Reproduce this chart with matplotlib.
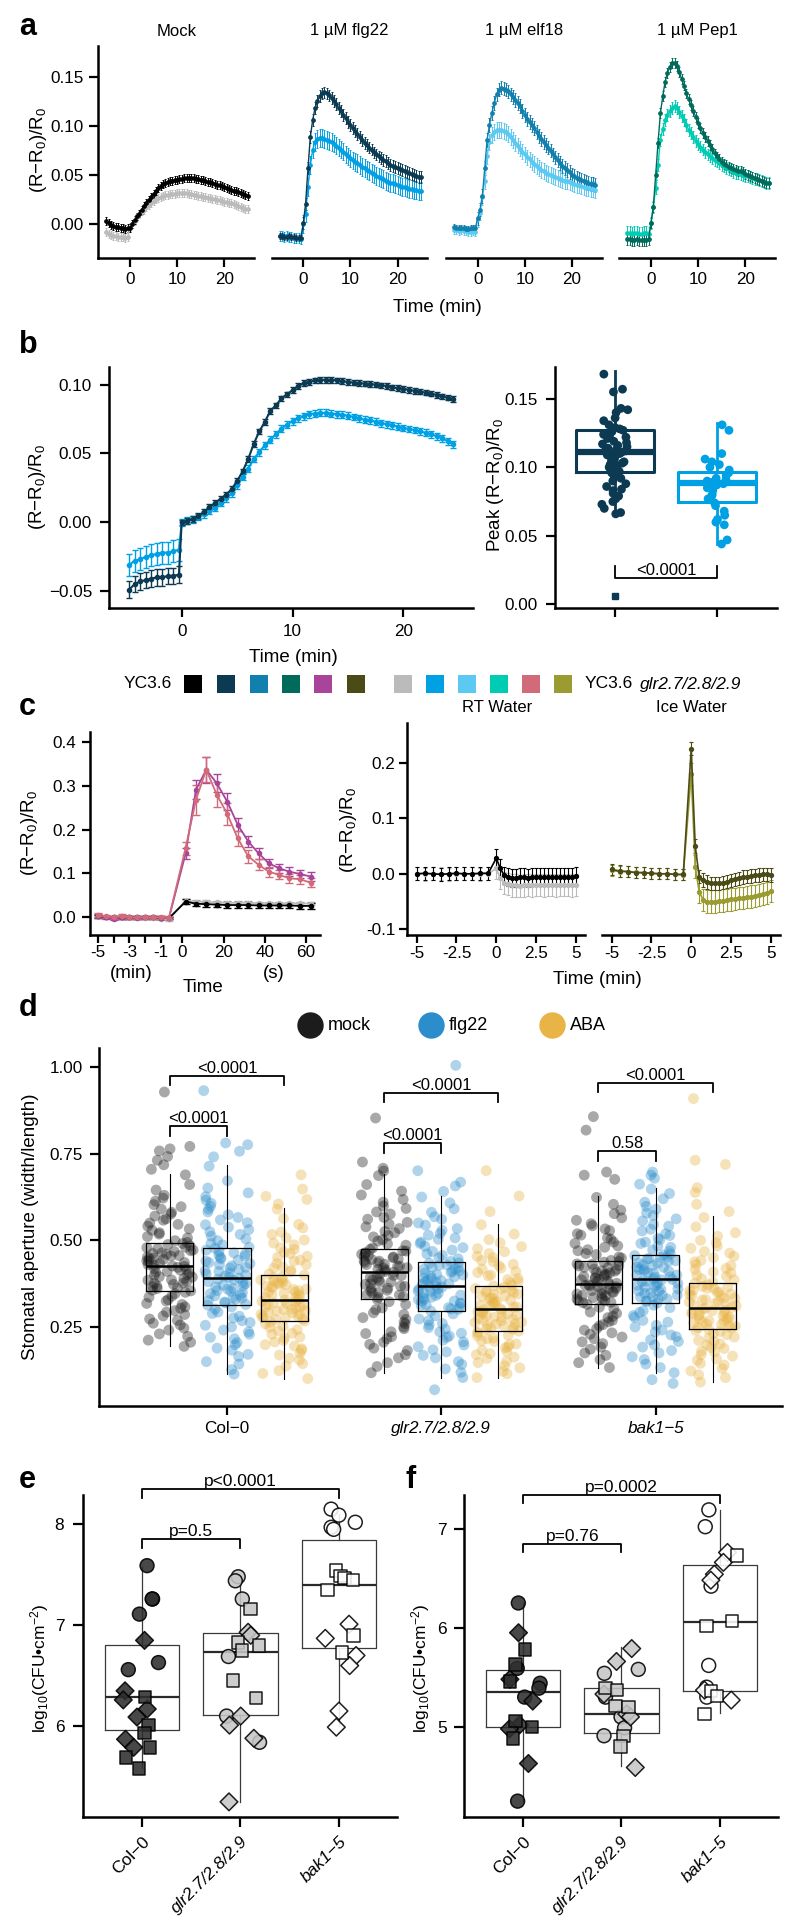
import numpy as np
import pandas as pd
import matplotlib
matplotlib.use('Agg')
import matplotlib.pyplot as plt
import matplotlib.patches as mpatches
import seaborn as sns

plt.rcParams['font.family'] = ['Liberation Sans', 'DejaVu Sans']
plt.rcParams['mathtext.fontset'] = 'custom'
plt.rcParams['mathtext.rm'] = 'Liberation Sans'
plt.rcParams['mathtext.it'] = 'Liberation Sans:italic'
plt.rcParams['mathtext.bf'] = 'Liberation Sans:bold'

# colours (YC3.6 row / YC3.6 glr2.7/2.8/2.9 row)
C_BLACK, C_NAVY, C_TEAL, C_GREEN, C_MAG, C_DOLIVE = '#000000', '#0b3a52', '#1280ae', '#006b5b', '#a8449a', '#4b4b18'
C_GRAY, C_BLUE, C_LBLUE, C_TURQ, C_PINK, C_OLIVE = '#bbbbbb', '#00a1e4', '#5bc9f1', '#00ccb4', '#d16b79', '#9a9b31'

# ---------------- data a (x1000, 0.5 min steps, -5 .. 25 min) ----------------
mock_yc = [3, 1, -1, -2, -3, -3, -4, -4, -5, -4,
           -4, 0, 4, 8, 11, 15, 19, 22, 25, 28, 31, 34, 37, 39, 41, 42, 43, 44, 44, 45, 45, 46, 46, 47, 47, 47,
           47, 47, 46, 46, 45, 45, 44, 43, 43, 42, 41, 40, 40, 39, 38, 37, 36, 35, 34, 34, 33, 32, 31, 30, 29]
mock_glr = [-8, -10, -11, -12, -12, -13, -13, -13, -14, -13,
            -3, 0, 3, 7, 10, 13, 15, 18, 20, 22, 24, 26, 27, 28, 29, 30, 30, 31, 31, 31, 32, 32, 32, 32, 32, 31,
            31, 30, 30, 29, 29, 28, 28, 27, 27, 26, 26, 25, 25, 24, 23, 23, 22, 22, 21, 20, 19, 18, 17, 16, 16]
flg_yc = [-12, -12, -13, -13, -12, -13, -13, -14, -14, -14,
          1, 21, 57, 89, 106, 118, 125, 130, 133, 134, 133, 131, 128, 125, 122, 118, 115, 111, 108, 104, 101, 98,
          95, 92, 89, 86, 83, 81, 78, 76, 73, 71, 69, 67, 65, 64, 62, 60, 59, 58, 57, 56, 55, 54, 53, 52, 51, 50,
          49, 48, 48]
flg_glr = [-12, -12, -13, -12, -13, -13, -14, -14, -14, -15,
           0, 11, 38, 60, 76, 84, 87, 88, 88, 87, 86, 85, 84, 82, 80, 78, 76, 74, 71, 69, 67, 65, 63, 62, 60, 58,
           57, 55, 54, 52, 51, 49, 48, 47, 46, 44, 43, 42, 42, 41, 40, 39, 38, 38, 37, 36, 36, 35, 35, 34, 34]
elf_yc = [-3, -4, -4, -4, -4, -5, -5, -4, -4, -4,
          6, 15, 29, 57, 86, 101, 113, 123, 132, 137, 139, 138, 137, 135, 132, 129, 126, 123, 120, 115, 111, 107,
          104, 101, 98, 94, 90, 87, 84, 81, 78, 75, 71, 68, 65, 62, 59, 57, 55, 53, 50, 49, 47, 46, 45, 44, 43, 42,
          41, 41, 40]
elf_glr = [-6, -6, -7, -6, -7, -7, -8, -8, -7, -8,
           5, 12, 28, 44, 69, 84, 91, 94, 96, 96, 96, 95, 94, 92, 89, 86, 83, 80, 77, 74, 71, 68, 66, 63, 61, 59,
           57, 55, 54, 52, 51, 50, 49, 48, 47, 46, 45, 44, 44, 43, 42, 41, 40, 40, 39, 38, 37, 37, 36, 36, 35]
pep_yc = [-15, -15, -16, -16, -15, -16, -16, -16, -16, -15,
          1, 18, 50, 83, 113, 130, 145, 154, 160, 164, 164, 161, 155, 148, 141, 133, 127, 121, 115, 109, 103, 98,
          93, 89, 85, 81, 77, 72, 69, 66, 63, 61, 60, 58, 57, 56, 55, 54, 54, 53, 51, 50, 49, 48, 47, 46, 45, 44,
          43, 42, 42]
pep_glr = [-9, -9, -10, -9, -9, -10, -10, -9, -9, -10,
           1, 18, 37, 60, 86, 97, 106, 111, 115, 118, 120, 118, 114, 110, 106, 101, 96, 93, 89, 85, 82, 79, 76, 73,
           71, 69, 67, 65, 64, 62, 60, 59, 57, 56, 55, 53, 52, 52, 51, 50, 49, 49, 48, 47, 46, 46, 45, 44, 43, 42, 42]
a_titles = ['Mock', '1 µM flg22', '1 µM elf18', '1 µM Pep1']
# sem (pre, post)
a_sem_yc = [(0.004, 0.004), (0.003, 0.006), (0.003, 0.007), (0.006, 0.005)]
a_sem_glr = [(0.004, 0.004), (0.005, 0.009), (0.004, 0.008), (0.007, 0.006)]

# ---------------- data b ----------------
b_yc = [-49, -45, -43, -42, -41, -40, -40, -39, -39, -38,
        0, 1, 2.5, 4.5, 7.5, 11, 14, 17, 20, 24, 30, 37, 46, 57, 66, 73, 81, 85, 90, 93, 96, 99, 101, 102, 103,
        103.5, 103.5, 103.5, 103, 102.5, 102, 101.5, 101, 100.8, 100.5, 100, 99.5, 99, 98, 97.5, 97, 96.2, 95.5,
        95, 94.2, 93.5, 92.5, 91.5, 90.5, 89.5]
b_glr = [-31, -28, -27, -25, -24, -23, -22, -22, -21, -20,
         0, 1, 2.2, 3.8, 5.8, 8.5, 10.4, 14, 17.5, 21, 27, 33, 39, 46, 51, 56, 60, 64, 68, 71, 73.5, 75.5, 77, 78.5,
         79, 79.5, 79.5, 79, 78.5, 78, 77.5, 76.5, 75.5, 74.5, 74, 73, 72, 71.2, 70.5, 69.5, 68.5, 67.8, 67, 66, 65,
         64, 62.5, 61, 58.8, 56.5]
b_sem_yc, b_sem_glr = (0.006, 0.002), (0.008, 0.0025)
peak_yc = [0.168, 0.157, 0.155, 0.143, 0.142, 0.140, 0.136, 0.134, 0.131, 0.129, 0.128, 0.127, 0.126, 0.124,
           0.123, 0.122, 0.121, 0.119, 0.118, 0.117, 0.116, 0.115, 0.114, 0.113, 0.112, 0.112, 0.111, 0.111, 0.110,
           0.110, 0.109, 0.108, 0.107, 0.106, 0.105, 0.104, 0.103, 0.102, 0.101, 0.100, 0.099, 0.098, 0.097, 0.096,
           0.094, 0.092, 0.090, 0.088, 0.086, 0.084, 0.083, 0.081, 0.079, 0.077, 0.075, 0.073, 0.070, 0.067, 0.066]
peak_glr = [0.131, 0.127, 0.110, 0.106, 0.104, 0.102, 0.100, 0.098, 0.096, 0.094, 0.092, 0.091, 0.090, 0.089,
            0.089, 0.088, 0.087, 0.085, 0.083, 0.080, 0.079, 0.077, 0.074, 0.072, 0.068, 0.065, 0.062, 0.060,
            0.058, 0.047, 0.044]
# box: whislo, q1, med, q3, whishi
peak_box_yc = [0.0665, 0.0965, 0.111, 0.1275, 0.1705]
peak_box_glr = [0.044, 0.0745, 0.0887, 0.0967, 0.132]
peak_outlier_yc = [0.0058]

# ---------------- data c ----------------
cl_t = [-300, -270, -240, -210, -180, -150, -120, -90, -60, -30,
        1.6, 6.6, 11.6, 16.7, 21.8, 26.9, 32.0, 37.0, 42.0, 47.0, 52.0, 57.1, 62.2]
cl_mag = [0.003, 0.0, -0.003, 0.0, 0.001, -0.001, 0.0, 0.0, -0.001, -0.002,
          0.146, 0.291, 0.337, 0.306, 0.264, 0.211, 0.173, 0.146, 0.123, 0.112, 0.104, 0.099, 0.093]
cl_mag_err = [0.004, 0.003, 0.003, 0.003, 0.003, 0.003, 0.003, 0.003, 0.003, 0.003,
              0.012, 0.022, 0.030, 0.020, 0.020, 0.015, 0.013, 0.012, 0.011, 0.010, 0.010, 0.010, 0.010]
cl_pink = [0.005, 0.002, 0.0, 0.003, 0.0, 0.0, 0.001, 0.0, 0.0, -0.001,
           0.158, 0.268, 0.337, 0.280, 0.236, 0.180, 0.139, 0.120, 0.104, 0.097, 0.089, 0.087, 0.079]
cl_pink_err = [0.004, 0.003, 0.003, 0.004, 0.003, 0.003, 0.003, 0.003, 0.003, 0.003,
               0.015, 0.035, 0.028, 0.028, 0.025, 0.018, 0.015, 0.012, 0.011, 0.010, 0.010, 0.010, 0.010]
cl_black = [0.002, 0.001, 0.0, 0.0, 0.0, 0.0, 0.0, 0.0, -0.001, -0.002,
            0.036, 0.031, 0.030, 0.029, 0.028, 0.028, 0.028, 0.027, 0.027, 0.027, 0.027, 0.026, 0.026]
cl_gray = [0.003, 0.001, 0.001, 0.0, 0.0, 0.0, -0.001, -0.001, -0.003, -0.005,
           0.038, 0.036, 0.035, 0.034, 0.033, 0.033, 0.033, 0.032, 0.032, 0.032, 0.032, 0.032, 0.031]
cl_sem_black, cl_sem_gray = (0.003, 0.006), (0.003, 0.004)

# RT / ice water: 0.5 min before, 0, then 0.25 min steps
cr_t = [-5, -4.5, -4, -3.5, -3, -2.5, -2, -1.5, -1, -0.5, 0,
        0.25, 0.5, 0.75, 1, 1.25, 1.5, 1.75, 2, 2.25, 2.5, 2.75, 3, 3.25, 3.5, 3.75, 4, 4.25, 4.5, 4.75, 5]
rt_yc = [0.000, 0.001, 0.000, -0.001, 0.000, 0.001, 0.000, 0.000, 0.001, 0.001, 0.028,
         0.010, -0.003, -0.006, -0.007, -0.007, -0.006, -0.006, -0.007, -0.006, -0.005, -0.005, -0.006, -0.005,
         -0.005, -0.006, -0.005, -0.005, -0.005, -0.005, -0.004]
rt_glr = [0.0, -0.001, 0.0, 0.0, -0.001, 0.0, 0.0, 0.0, -0.001, 0.0, 0.010,
          -0.008, -0.016, -0.019, -0.021, -0.021, -0.022, -0.021, -0.020, -0.021, -0.020, -0.020, -0.021, -0.020,
          -0.020, -0.021, -0.020, -0.020, -0.020, -0.021, -0.020]
ice_yc = [0.008, 0.005, 0.004, 0.002, 0.002, 0.001, 0.0, 0.0, -0.001, -0.001, 0.225,
          0.050, -0.005, -0.011, -0.015, -0.017, -0.017, -0.017, -0.016, -0.014, -0.012, -0.010, -0.008, -0.006,
          -0.005, -0.004, -0.003, -0.002, -0.001, -0.001, -0.002]
ice_glr = [0.006, 0.004, 0.004, 0.003, 0.002, 0.001, 0.0, 0.0, -0.001, -0.002, 0.180,
           0.013, -0.032, -0.047, -0.050, -0.050, -0.050, -0.049, -0.048, -0.047, -0.046, -0.045, -0.044, -0.043,
           -0.042, -0.041, -0.040, -0.038, -0.036, -0.034, -0.031]
cr_sem = {'rt_yc': (0.012, 0.016), 'rt_glr': (0.012, 0.02), 'ice_yc': (0.01, 0.012), 'ice_glr': (0.01, 0.02)}

# ---------------- data d (stomatal aperture, x1000) ----------------
d_genos = ['Col−0', 'glr2.7/2.8/2.9', 'bak1−5']
d_treats = ['mock', 'flg22', 'ABA']
d_col_mock = ("194 206 212 223 230 241 247 256 261 269 273 282 286 293 297 304 308 315 318 325 329 336 339 346 350 "
              "354 356 361 363 367 368 373 376 377 381 385 386 390 394 395 399 401 406 408 410 414 417 419 422 425 "
              "426 429 430 434 436 440 441 445 447 448 452 455 456 460 462 464 468 470 472 476 479 480 484 488 491 "
              "494 499 507 511 518 522 529 533 541 546 550 558 562 570 576 581 590 597 603 613 622 630 645 661 689 "
              "705 718 731 742 758 764 771 928")
d_col_flg = ("114 127 143 150 165 171 183 189 199 205 216 220 229 236 241 250 255 263 268 276 281 289 293 302 308 "
             "313 315 320 322 326 330 333 336 340 342 346 349 353 355 359 362 365 369 371 375 378 381 385 388 391 "
             "393 397 399 403 406 410 412 416 420 422 426 430 433 436 440 443 447 450 454 457 461 464 468 472 477 "
             "480 487 491 499 504 512 517 525 531 538 545 551 559 566 574 582 590 598 607 616 626 637 651 672 714 "
             "741 757 776 781 932")
d_col_aba = ("101 116 124 137 144 155 160 169 174 183 187 195 199 207 211 218 221 229 232 239 242 249 252 259 264 "
             "267 271 272 276 277 281 282 286 287 291 292 296 297 301 302 306 308 309 313 314 318 319 323 324 328 "
             "330 334 335 339 342 343 347 350 351 355 358 359 363 366 367 372 374 377 378 383 386 387 392 394 400 "
             "403 410 413 420 423 430 433 440 443 451 454 462 466 474 478 487 492 501 507 517 524 536 546 563 590 "
             "605 618 627 648 689")
d_glr_mock = ("118 136 147 161 170 182 189 200 206 216 222 231 236 245 250 259 264 272 277 286 291 300 305 315 323 "
              "330 335 337 342 343 348 349 354 356 361 362 367 368 373 374 379 380 385 386 392 393 398 399 404 408 "
              "410 415 416 420 421 425 426 430 431 435 436 440 441 445 446 450 452 455 456 460 463 464 469 470 474 "
              "478 486 490 498 502 510 514 522 526 534 539 547 552 561 566 576 582 592 599 610 618 631 642 661 687 "
              "700 708 726 853")
d_glr_flg = ("069 104 119 129 142 150 161 168 178 184 193 198 207 212 220 224 232 236 244 248 256 260 268 273 282 "
             "288 296 301 302 306 307 312 313 318 319 324 325 329 330 335 336 341 342 347 348 353 354 359 360 365 "
             "366 369 374 375 379 380 384 385 390 391 395 396 400 401 406 407 411 412 417 418 422 423 428 429 434 "
             "435 439 447 450 457 461 468 472 479 483 491 495 503 507 515 520 529 534 544 550 561 568 581 591 608 "
             "625 641 657 668 701 1005")
d_glr_aba = ("104 115 122 132 138 147 151 159 163 170 173 180 183 190 192 199 201 208 210 216 218 224 226 232 236 "
             "238 243 244 248 249 253 254 258 259 263 264 268 269 273 274 278 279 283 284 288 289 293 294 298 300 "
             "302 307 308 312 313 317 318 322 323 328 329 333 334 338 339 344 345 349 350 354 355 360 361 365 368 "
             "371 378 381 387 390 397 400 407 410 417 420 427 431 438 442 450 454 462 467 476 482 493 502 518 545 "
             "583 628 701")
d_bak_mock = ("133 147 156 168 175 186 192 202 207 216 221 229 233 241 245 253 257 265 269 277 281 289 293 302 307 "
              "315 320 321 325 326 330 331 335 336 340 341 345 346 350 351 355 356 360 361 365 366 369 370 372 374 "
              "376 381 382 386 387 391 392 396 397 401 402 406 407 411 412 416 417 421 422 426 427 431 432 437 439 "
              "442 449 452 459 462 470 473 480 484 491 495 503 507 515 519 528 533 542 548 558 565 577 587 604 624 "
              "676 688 697 818 857")
d_bak_flg = ("087 098 118 133 143 156 164 175 182 192 198 208 213 222 227 236 241 250 255 264 269 278 283 292 297 "
             "306 313 319 324 325 330 331 336 337 341 342 347 348 353 354 359 360 365 366 370 371 376 377 381 382 "
             "386 387 389 394 395 399 400 405 406 411 412 416 417 422 423 428 429 434 435 440 441 446 447 451 452 "
             "456 458 461 469 472 480 483 491 495 502 506 514 519 527 532 541 546 556 562 572 579 590 598 610 620 "
             "635 648 662 679 688 697")
d_bak_aba = ("091 104 112 123 130 140 145 154 158 166 170 178 181 188 191 198 201 208 211 218 221 228 231 237 240 "
             "243 247 248 252 253 257 258 262 263 267 268 272 273 277 278 282 283 287 288 292 293 297 298 302 304 "
             "306 311 312 317 318 322 323 328 329 333 334 339 340 344 345 350 351 355 356 361 362 366 367 372 376 "
             "379 386 389 396 399 406 409 416 419 427 430 438 442 450 454 463 468 477 483 493 500 512 522 539 566 "
             "583 604 638 652 719 731 909")
# box stats, order Col-0 (mock, flg22, ABA), glr, bak
d_lo = [0.194, 0.113, 0.101, 0.118, 0.104, 0.104, 0.133, 0.118, 0.091]
d_q1 = [0.354, 0.312, 0.267, 0.330, 0.296, 0.238, 0.315, 0.319, 0.243]
d_med = [0.425, 0.392, 0.329, 0.409, 0.368, 0.301, 0.375, 0.388, 0.305]
d_q3 = [0.492, 0.478, 0.401, 0.476, 0.437, 0.369, 0.440, 0.459, 0.377]
d_hi = [0.692, 0.716, 0.594, 0.690, 0.628, 0.548, 0.627, 0.651, 0.569]
d_pvals = ['<0.0001', '<0.0001', '<0.0001', '<0.0001', '0.58', '<0.0001']  # (mock-flg22, mock-ABA) per genotype

# ---------------- data e / f (log10 CFU) ----------------
e_col_circ = [7.59, 7.26, 7.26, 7.11, 6.63, 6.56]
e_col_diam = [6.85, 6.35, 6.26, 6.17, 6.09, 5.87, 5.79]
e_col_sq = [6.29, 6.01, 5.93, 5.79, 5.69, 5.58]
e_glr_circ = [7.48, 7.44, 7.26, 6.69, 6.10, 5.84]
e_glr_diam = [6.93, 6.90, 6.10, 6.01, 5.88, 5.25]
e_glr_sq = [7.16, 6.83, 6.80, 6.75, 6.45, 6.28]
e_bak_circ = [8.15, 8.09, 8.02, 7.97, 7.95]
e_bak_diam = [7.01, 6.87, 6.70, 6.60, 6.15, 5.99]
e_bak_sq = [7.54, 7.49, 7.47, 7.45, 7.35, 6.90, 6.73]
e_box = [[5.59, 5.96, 6.29, 6.80, 7.58], [5.25, 6.11, 6.73, 6.92, 7.48], [6.00, 6.77, 7.40, 7.84, 8.10]]

f_col_circ = [6.25, 5.59, 5.44, 5.39, 5.30, 4.25]
f_col_diam = [5.95, 5.48, 5.26, 5.02, 4.98, 4.63]
f_col_sq = [5.78, 5.63, 5.46, 5.06, 5.00, 4.88]
f_glr_circ = [5.58, 5.54, 5.30, 5.10, 4.99, 4.91]
f_glr_diam = [5.79, 5.66, 5.33, 5.13, 5.10, 4.59]
f_glr_sq = [5.39, 5.37, 5.21, 5.20, 4.91, 4.80]
f_bak_circ = [7.19, 7.02, 6.42, 5.62, 5.40, 5.30]
f_bak_diam = [6.76, 6.66, 6.54, 6.48, 5.37, 5.27]
f_bak_sq = [6.73, 6.07, 6.02, 5.36, 5.31, 5.13]
f_box = [[4.25, 5.00, 5.35, 5.57, 6.25], [4.60, 4.94, 5.13, 5.39, 5.81], [5.14, 5.36, 6.06, 6.63, 7.19]]

# =====================================================================
W, H = 800, 1929
fig = plt.figure(figsize=(W / 100, H / 100), dpi=100)
np.random.seed(7)
TICK = 12.3
LAB = 13.5


def px_axes(x0, y0, x1, y1):
    return fig.add_axes([x0 / W, 1 - y1 / H, (x1 - x0) / W, (y1 - y0) / H])


def clean(ax, left=True, xpad=4, ypad=4.5, length=6.5):
    ax.spines['top'].set_visible(False)
    ax.spines['right'].set_visible(False)
    ax.spines['left'].set_linewidth(1.8)
    ax.spines['bottom'].set_linewidth(1.8)
    ax.tick_params(width=1.6, length=length, labelsize=TICK)
    ax.tick_params(axis='x', pad=xpad)
    ax.tick_params(axis='y', pad=ypad)
    if not left:
        ax.spines['left'].set_visible(False)
        ax.tick_params(axis='y', left=False, labelleft=False)
    ax.patch.set_alpha(0)


def sem_arr(t, sem):
    return np.where(np.asarray(t) < 0, sem[0], sem[1])


def bracket(ax, x0, x1, y, h, label, size=12):
    ax.plot([x0, x0, x1, x1], [y - h, y, y, y - h], color='black', lw=1.3, clip_on=False)
    ax.text((x0 + x1) / 2, y, label, ha='center', va='bottom', fontsize=size, clip_on=False)


# ---------------- panel a ----------------
t_a = np.r_[np.arange(-5, 0, 0.5), np.arange(0, 25.5, 0.5)]
a_pairs = [(mock_yc, mock_glr, C_BLACK, C_GRAY), (flg_yc, flg_glr, C_NAVY, C_BLUE),
           (elf_yc, elf_glr, C_TEAL, C_LBLUE), (pep_yc, pep_glr, C_GREEN, C_TURQ)]
a_x = [(98.4, 253.9), (271.7, 427.2), (446.1, 601.6), (619.4, 774.9)]
for i, (yc, glr, cy, cg) in enumerate(a_pairs):
    ax = px_axes(a_x[i][0], 46, a_x[i][1], 258)
    for vals, col, sem in [(glr, cg, a_sem_glr[i]), (yc, cy, a_sem_yc[i])]:
        v = np.array(vals) / 1000
        ax.errorbar(t_a, v, yerr=sem_arr(t_a, sem), color=col, lw=1.0, marker='o', ms=2.4,
                    elinewidth=0.7, capsize=1.0, capthick=0.7)
    ax.set_xlim(-6.7, 26.3)
    ax.set_ylim(-0.0342, 0.1812)
    ax.set_xticks([0, 10, 20])
    ax.set_yticks([0, 0.05, 0.10, 0.15])
    ax.set_yticklabels(['0.00', '0.05', '0.10', '0.15'])
    clean(ax, left=(i == 0), xpad=3.5, ypad=4)

# ---------------- panel b ----------------
t_b = np.r_[np.arange(-4.75, 0, 0.5), np.arange(0, 25, 0.5)]
ax = px_axes(109.3, 367, 473.3, 608.3)
for vals, col, sem in [(b_glr, C_BLUE, b_sem_glr), (b_yc, C_NAVY, b_sem_yc)]:
    ax.errorbar(t_b, np.array(vals) / 1000, yerr=sem_arr(t_b, sem), color=col, lw=1.5, marker='o', ms=3,
                elinewidth=1.0, capsize=2.0, capthick=1.0)
ax.set_xlim(-6.53, 26.3)
ax.set_ylim(-0.0625, 0.1128)
ax.set_xticks([0, 10, 20])
ax.set_yticks([-0.05, 0, 0.05, 0.10])
ax.set_yticklabels(['−0.05', '0.00', '0.05', '0.10'])
clean(ax, xpad=4.5, ypad=6)

ax = px_axes(555, 367, 777, 608.3)
df_peak = pd.DataFrame({'line': ['YC3.6'] * len(peak_yc) + ['glr'] * len(peak_glr),
                        'peak': peak_yc + peak_glr})
for k, (box, col, fl) in enumerate([(peak_box_yc, C_NAVY, peak_outlier_yc), (peak_box_glr, C_BLUE, [])]):
    st = [dict(whislo=box[0], q1=box[1], med=box[2], q3=box[3], whishi=box[4], fliers=fl)]
    ax.bxp(st, positions=[k], widths=0.76, showcaps=False, manage_ticks=False,
           boxprops=dict(color=col, lw=2.2), medianprops=dict(color=col, lw=4.5),
           whiskerprops=dict(color=col, lw=2.0),
           flierprops=dict(marker='s', markerfacecolor=col, markeredgecolor=col, markersize=4))
sns.stripplot(data=df_peak, x='line', y='peak', hue='line', order=['YC3.6', 'glr'],
              palette={'YC3.6': C_NAVY, 'glr': C_BLUE}, jitter=0.13, size=6.3, linewidth=0,
              legend=False, ax=ax, zorder=3)
bracket(ax, 0, 1, 0.019, -0.009, '<0.0001')
ax.set_xlim(-0.59, 1.59)
ax.set_ylim(-0.0029, 0.1732)
ax.set_xticks([0, 1])
ax.set_xticklabels(['', ''])
ax.set_yticks([0, 0.05, 0.10, 0.15])
ax.set_yticklabels(['0.00', '0.05', '0.10', '0.15'])
ax.set_xlabel('')
ax.set_ylabel('')
clean(ax, ypad=6)

# ---------------- panel c ----------------


def c_fwd(t):
    t = np.asarray(t, dtype=float)
    return np.where(t < 0, t * 0.1278 - 2.67, t)


def c_inv(u):
    u = np.asarray(u, dtype=float)
    return np.where(u < -2.67, (u + 2.67) / 0.1278, np.clip(u, 0, None))


ax = px_axes(90, 731.7, 320, 935)
ax.set_xscale('function', functions=(c_fwd, c_inv))
for vals, col, err in [(cl_gray, C_GRAY, sem_arr(cl_t, cl_sem_gray)), (cl_black, C_BLACK, sem_arr(cl_t, cl_sem_black)),
                       (cl_mag, C_MAG, cl_mag_err), (cl_pink, C_PINK, cl_pink_err)]:
    ax.errorbar(cl_t, vals, yerr=err, color=col, lw=1.3, marker='o', ms=3, elinewidth=1.0,
                capsize=3, capthick=1.0)
ax.set_xlim(-329.7, 66.8)
ax.set_ylim(-0.0404, 0.4237)
ax.set_xticks([-300, -240, -180, -120, -60, 0, 20, 40, 60])
ax.set_xticklabels(['-5', '', '-3', '', '-1', '0', '20', '40', '60'])
ax.xaxis.set_minor_locator(matplotlib.ticker.NullLocator())
ax.set_yticks([0, 0.1, 0.2, 0.3, 0.4])
ax.set_yticklabels(['0.0', '0.1', '0.2', '0.3', '0.4'])
clean(ax, xpad=1.5, ypad=4, length=6)

for j, (x0, x1, pairs) in enumerate([(407.3, 585, [(rt_glr, C_GRAY, 'rt_glr'), (rt_yc, C_BLACK, 'rt_yc')]),
                                      (602.3, 780, [(ice_glr, C_OLIVE, 'ice_glr'), (ice_yc, C_DOLIVE, 'ice_yc')])]):
    ax = px_axes(x0, 723.3, x1, 935)
    for vals, col, key in pairs:
        ax.errorbar(cr_t, vals, yerr=sem_arr(cr_t, cr_sem[key]), color=col, lw=1.2, marker='o', ms=2.8,
                    elinewidth=0.8, capsize=1.5, capthick=0.8)
    ax.set_xlim(-5.59, 5.58)
    ax.set_ylim(-0.110, 0.2705)
    ax.set_xticks([-5, -2.5, 0, 2.5, 5])
    ax.set_xticklabels(['-5', '-2.5', '0', '2.5', '5'])
    ax.set_yticks([-0.1, 0, 0.1, 0.2])
    ax.set_yticklabels(['-0.1', '0.0', '0.1', '0.2'])
    clean(ax, left=(j == 0), xpad=2, ypad=2.5, length=6)

# ---------------- panel d ----------------
d_groups = [[d_col_mock, d_col_flg, d_col_aba], [d_glr_mock, d_glr_flg, d_glr_aba],
            [d_bak_mock, d_bak_flg, d_bak_aba]]
rows = []
for g, geno in enumerate(d_genos):
    for k, tr in enumerate(d_treats):
        for v in np.array(d_groups[g][k].split(), dtype=float) / 1000:
            rows.append((geno, tr, v))
df_d = pd.DataFrame(rows, columns=['geno', 'treat', 'ap'])
d_cols = {'mock': '#1c1c1c', 'flg22': '#2b8dcb', 'ABA': '#e8b446'}

ax = px_axes(98.5, 1048, 782, 1406)
sns.stripplot(data=df_d, x='geno', y='ap', hue='treat', order=d_genos, hue_order=d_treats,
              palette=d_cols, dodge=True, jitter=0.33, size=7.8, alpha=0.38, linewidth=0,
              legend=False, ax=ax, zorder=1)
offs = [-0.8 / 3, 0, 0.8 / 3]
stats, pos = [], []
for g in range(3):
    for k in range(3):
        n = g * 3 + k
        stats.append(dict(whislo=d_lo[n], q1=d_q1[n], med=d_med[n], q3=d_q3[n], whishi=d_hi[n], fliers=[]))
        pos.append(g + offs[k])
ax.bxp(stats, positions=pos, widths=0.22, showcaps=False, showfliers=False, manage_ticks=False,
       boxprops=dict(color='black', lw=0.9), medianprops=dict(color='black', lw=1.8),
       whiskerprops=dict(color='black', lw=0.8), zorder=4)
# brackets: lower (mock-flg22), upper (mock-ABA)
d_br_low = [0.830, 0.781, 0.758]
d_br_up = [0.974, 0.926, 0.954]
for g in range(3):
    bracket(ax, g + offs[0], g + offs[1], d_br_low[g], 0.028, d_pvals[2 * g])
    bracket(ax, g + offs[0], g + offs[2], d_br_up[g], 0.027, d_pvals[2 * g + 1])
ax.set_xlim(-0.60, 2.59)
ax.set_ylim(0.022, 1.055)
ax.set_xticks([0, 1, 2])
ax.set_xticklabels(d_genos)
ax.get_xticklabels()[1].set_fontstyle('italic')
ax.get_xticklabels()[2].set_fontstyle('italic')
ax.set_yticks([0.25, 0.5, 0.75, 1.0])
ax.set_yticklabels(['0.25', '0.50', '0.75', '1.00'])
ax.set_xlabel('')
ax.set_ylabel('')
clean(ax, xpad=4.5, ypad=5)

# ---------------- panels e, f ----------------
ef_fill = {'Col−0': '#2e2e2e', 'glr2.7/2.8/2.9': '#c6c6c6', 'bak1−5': '#ffffff'}
ef_size = {'o': 10, 'D': 9, 's': 9}


def ef_panel(x0, x1, sets, boxes, ylim, yticks, brackets, jit, ypad):
    ax = px_axes(x0, 1495, x1, 1817)
    st = [dict(whislo=b[0], q1=b[1], med=b[2], q3=b[3], whishi=b[4], fliers=[]) for b in boxes]
    ax.bxp(st, positions=[0, 1, 2], widths=0.76, showcaps=False, showfliers=False, manage_ticks=False,
           boxprops=dict(color='#3a3a3a', lw=0.9), medianprops=dict(color='#2a2a2a', lw=1.6),
           whiskerprops=dict(color='#3a3a3a', lw=0.9), zorder=2)
    rows = []
    for geno, mk, vals in sets:
        for v in vals:
            rows.append((geno, mk, v))
    df = pd.DataFrame(rows, columns=['geno', 'mk', 'val'])
    for mk in ['o', 'D', 's']:
        sub = df[df.mk == mk]
        sns.stripplot(data=sub, x='geno', y='val', hue='geno', order=d_genos, hue_order=d_genos,
                      palette=ef_fill, marker=mk, size=ef_size[mk], edgecolor='black', linewidth=1.1,
                      alpha=0.88, jitter=jit, legend=False, ax=ax, zorder=3)
    for (a, b, y, h, lab) in brackets:
        bracket(ax, a, b, y, h, lab, size=12.5)
    ax.set_xlim(-0.60, 2.59)
    ax.set_ylim(*ylim)
    ax.set_yticks(yticks)
    ax.set_yticklabels([str(t) for t in yticks])
    ax.set_xticks([0, 1, 2])
    ax.set_xticklabels(d_genos, rotation=45, ha='right', va='top', rotation_mode='anchor')
    ax.get_xticklabels()[1].set_fontstyle('italic')
    ax.get_xticklabels()[2].set_fontstyle('italic')
    ax.set_xlabel('')
    ax.set_ylabel('')
    clean(ax, xpad=5, ypad=ypad, length=7)
    ax.tick_params(labelsize=12.5)
    return ax


ef_panel(83, 397,
         [('Col−0', 'o', e_col_circ), ('Col−0', 'D', e_col_diam), ('Col−0', 's', e_col_sq),
          ('glr2.7/2.8/2.9', 'o', e_glr_circ), ('glr2.7/2.8/2.9', 'D', e_glr_diam), ('glr2.7/2.8/2.9', 's', e_glr_sq),
          ('bak1−5', 'o', e_bak_circ), ('bak1−5', 'D', e_bak_diam), ('bak1−5', 's', e_bak_sq)],
         e_box, (5.10, 8.29), [6, 7, 8],
         [(0, 1, 7.85, 0.09, 'p=0.5'), (0, 2, 8.35, 0.09, 'p<0.0001')], 0.2, 6.5)
ef_panel(464, 778,
         [('Col−0', 'o', f_col_circ), ('Col−0', 'D', f_col_diam), ('Col−0', 's', f_col_sq),
          ('glr2.7/2.8/2.9', 'o', f_glr_circ), ('glr2.7/2.8/2.9', 'D', f_glr_diam), ('glr2.7/2.8/2.9', 's', f_glr_sq),
          ('bak1−5', 'o', f_bak_circ), ('bak1−5', 'D', f_bak_diam), ('bak1−5', 's', f_bak_sq)],
         f_box, (4.09, 7.34), [5, 6, 7],
         [(0, 1, 6.85, 0.09, 'p=0.76'), (0, 2, 7.34, 0.08, 'p=0.0002')], 0.18, 5.5)

# ---------------- overlay: letters, shared labels, legends ----------------
ov = fig.add_axes([0, 0, 1, 1])
ov.set_xlim(0, W)
ov.set_ylim(H, 0)
ov.axis('off')
for s, x, y in [('a', 19, 35), ('b', 19, 353), ('c', 19, 715), ('d', 19, 1016), ('e', 19, 1488), ('f', 406, 1488)]:
    ov.text(x, y, s, fontsize=22, fontweight='bold', ha='left', va='baseline')

rr = '(R−R$_0$)/R$_0$'
for i, ttl in enumerate(a_titles):
    ov.text((a_x[i][0] + a_x[i][1]) / 2, 35.5, ttl, ha='center', va='baseline', fontsize=12)
ov.text(437, 307, 'Time (min)', ha='center', va='center', fontsize=LAB)
ov.text(38.5, 150, rr, rotation=90, ha='center', va='center', fontsize=LAB)

ov.text(293, 658, 'Time (min)', ha='center', va='center', fontsize=LAB)
ov.text(37, 487, rr, rotation=90, ha='center', va='center', fontsize=LAB)
ov.text(495, 485, 'Peak ' + rr, rotation=90, ha='center', va='center', fontsize=LAB)

leg_cols = [C_BLACK, C_NAVY, C_TEAL, C_GREEN, C_MAG, C_DOLIVE, C_GRAY, C_BLUE, C_LBLUE, C_TURQ, C_PINK, C_OLIVE]
leg_x = [193, 226, 259, 291, 323, 356, 403, 435, 467, 499, 531, 563]
for cx, col in zip(leg_x, leg_cols):
    ov.add_patch(mpatches.Rectangle((cx - 9, 675), 18, 18, color=col, lw=0))
ov.text(172, 684, 'YC3.6', ha='right', va='center', fontsize=12.5)
ov.text(585, 684, 'YC3.6', ha='left', va='center', fontsize=12.5)
ov.text(640, 684, 'glr2.7/2.8/2.9', ha='left', va='center', fontsize=12.5, style='italic')

ov.text(497, 708, 'RT Water', ha='center', va='center', fontsize=12)
ov.text(691, 708, 'Ice Water', ha='center', va='center', fontsize=12)
ov.text(29.5, 833, rr, rotation=90, ha='center', va='center', fontsize=LAB)
ov.text(348.5, 830, rr, rotation=90, ha='center', va='center', fontsize=LAB)
ov.text(131, 973, '(min)', ha='center', va='center', fontsize=LAB)
ov.text(274, 973, '(s)', ha='center', va='center', fontsize=LAB)
ov.text(203, 988, 'Time', ha='center', va='center', fontsize=LAB)
ov.text(597, 980, 'Time (min)', ha='center', va='center', fontsize=LAB)

for cx, tr in zip([310, 431, 552], d_treats):
    ov.plot(cx, 1025, 'o', ms=18, color=d_cols[tr])
    ov.text(cx + 18, 1025, tr, ha='left', va='center', fontsize=13)
ov.text(31, 1227, 'Stomatal aperture (width/length)', rotation=90, ha='center', va='center', fontsize=LAB)

ylab_ef = 'log$_{10}$(CFU•cm$^{-2}$)'
ov.text(40, 1668, ylab_ef, rotation=90, ha='center', va='center', fontsize=12.5)
ov.text(421, 1668, ylab_ef, rotation=90, ha='center', va='center', fontsize=12.5)

fig.savefig('out.png', dpi=100)
